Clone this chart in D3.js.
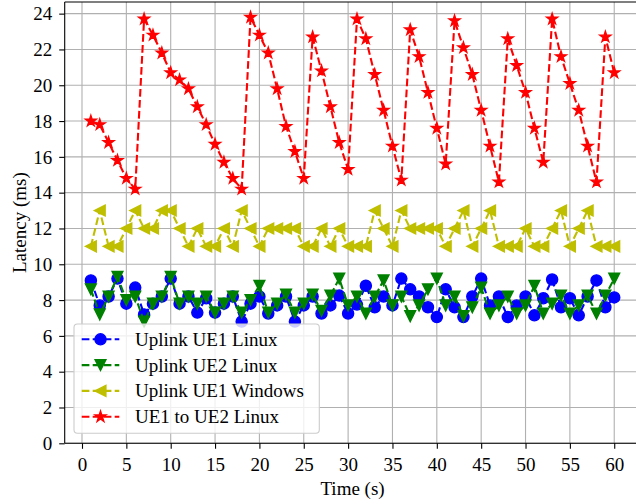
<!DOCTYPE html>
<html>
<head>
<meta charset="utf-8">
<script src="https://cdn.jsdelivr.net/npm/d3@7"></script>
<style>
  html, body { margin: 0; padding: 0; background: #ffffff; }
  svg { display: block; }
  text { font-family: "Liberation Serif", "Times New Roman", serif; fill: #000; }
</style>
</head>
<body>
<script>
// ---------------- data ----------------
const timeS = [1,2,3,4,5,6,7,8,9,10,11,12,13,14,15,16,17,18,19,20,
               21,22,23,24,25,26,27,28,29,30,31,32,33,34,35,36,37,38,39,40,
               41,42,43,44,45,46,47,48,49,50,51,52,53,54,55,56,57,58,59,60];

const uplinkUE1Linux = [9.1,7.7,8.2,9.2,7.8,8.7,7.2,7.8,8.2,9.2,7.8,8.2,7.3,8.1,7.3,7.8,8.2,6.8,7.8,8.2,
                        7.25,7.7,8.2,6.8,7.7,8.2,7.25,7.7,8.25,7.25,7.75,8.8,7.6,8.2,7.7,9.2,8.6,8.2,7.6,7.05,
                        8.6,7.6,7.05,8.2,9.2,7.7,8.2,7.05,7.7,8.2,7.15,8.1,9.15,7.6,8.1,7.15,8.2,9.1,7.6,8.15];

const uplinkUE2Linux = [8.6,7.2,8.2,9.3,8.0,8.2,6.8,7.8,8.2,9.3,7.8,8.2,7.8,8.2,7.3,7.8,8.2,7.3,8.0,8.8,
                        7.3,7.8,8.3,7.3,7.8,8.3,7.4,8.25,9.2,7.7,8.2,7.25,8.2,9.1,7.7,8.2,7.1,7.7,8.6,9.2,
                        7.7,8.2,7.1,7.6,8.7,7.25,7.7,8.2,7.25,7.7,8.8,7.25,7.8,8.25,7.25,7.7,8.25,7.25,8.25,9.2];

const uplinkUE1Windows = [11,13,11,11,12,13,12,12,13,13,12,11,12,11,11,12,11,13,12,11,
                          12,12,12,12,11,11,12,11,12,11,11,11,13,12,11,13,12,12,12,12,
                          11,12,13,11,12,13,11,11,11,12,11,11,12,13,11,12,13,11,11,11];

const ue1ToUe2Linux = [18.0,17.8,16.8,15.8,14.8,14.2,23.7,22.8,21.8,20.7,20.3,19.8,18.8,17.8,16.7,15.7,14.8,14.2,23.8,22.8,
                       21.8,19.8,17.7,16.3,14.8,22.7,20.8,18.8,16.8,15.3,23.7,22.6,20.6,18.6,16.6,14.7,23.1,21.6,19.6,17.6,
                       15.6,23.6,22.1,20.6,18.6,16.6,14.6,22.6,21.1,19.6,17.6,15.7,23.7,21.6,20.1,18.6,16.6,14.6,22.7,20.7];

const seriesNames = ["Uplink UE1 Linux", "Uplink UE2 Linux", "Uplink UE1 Windows", "UE1 to UE2 Linux"];
const xTicks = [0,5,10,15,20,25,30,35,40,45,50,55,60];
const yTicks = [0,2,4,6,8,10,12,14,16,18,20,22,24];
const xLabel = "Time (s)";
const yLabel = "Latency (ms)";

// ---------------- styles ----------------
const colors = ["#0000ff", "#008000", "#bfbf00", "#ff0000"];
const W = 636, H = 504;
const axL = 64.7, axR = 640.4, axT = 2, axB = 443.3;

const svg = d3.select("body").append("svg").attr("width", W).attr("height", H);

const x = d3.scaleLinear().domain([-1.95, 62.95]).range([axL, axR]);
const y = d3.scaleLinear().domain([0, 24.65]).range([axB, axT]);

// custom marker symbols (size = markersize^2)
const symCircle = { draw(ctx, size) { const r = Math.sqrt(size) / 2; ctx.moveTo(r, 0); ctx.arc(0, 0, r, 0, 2 * Math.PI); } };
const symTriDown = { draw(ctx, size) { const r = Math.sqrt(size) / 2; ctx.moveTo(0, r); ctx.lineTo(-r, -r); ctx.lineTo(r, -r); ctx.closePath(); } };
const symTriLeft = { draw(ctx, size) { const r = Math.sqrt(size) / 2; ctx.moveTo(-r, 0); ctx.lineTo(r, -r); ctx.lineTo(r, r); ctx.closePath(); } };
const symStar = { draw(ctx, size) {
  const R = Math.sqrt(size) / 2, ri = R * 0.381966;
  for (let i = 0; i < 10; i++) {
    const a = -Math.PI / 2 + i * Math.PI / 5;
    const rr = i % 2 === 0 ? R : ri;
    const px = rr * Math.cos(a), py = rr * Math.sin(a);
    if (i === 0) ctx.moveTo(px, py); else ctx.lineTo(px, py);
  }
  ctx.closePath();
} };
const markerTypes = [symCircle, symTriDown, symTriLeft, symStar];
const ms = 11.1;
const markerSizes = [ms * ms, ms * ms * 0.95, ms * ms * 0.95, ms * ms * 1.05];

// ---------------- grid ----------------
const grid = svg.append("g");
grid.selectAll("line.vx").data(xTicks).join("line")
  .attr("x1", d => x(d)).attr("x2", d => x(d))
  .attr("y1", axT).attr("y2", axB)
  .attr("stroke", "#b0b0b0").attr("stroke-width", 1.1);
grid.selectAll("line.hy").data(yTicks).join("line")
  .attr("x1", axL).attr("x2", axR)
  .attr("y1", d => y(d)).attr("y2", d => y(d))
  .attr("stroke", "#b0b0b0").attr("stroke-width", 1.1);

// ---------------- series ----------------
const allSeries = [uplinkUE1Linux, uplinkUE2Linux, uplinkUE1Windows, ue1ToUe2Linux];
const line = d3.line().x(d => x(d[0])).y(d => y(d[1]));

allSeries.forEach((vals, i) => {
  const pts = timeS.map((t, j) => [t, vals[j]]);
  const g = svg.append("g");
  g.append("path").datum(pts)
    .attr("d", line)
    .attr("fill", "none")
    .attr("stroke", colors[i])
    .attr("stroke-width", 2.1)
    .attr("stroke-dasharray", "7.7,3.3");
  g.selectAll("path.m").data(pts).join("path")
    .attr("class", "m")
    .attr("transform", d => `translate(${x(d[0])},${y(d[1])})`)
    .attr("d", d3.symbol().type(markerTypes[i]).size(markerSizes[i]))
    .attr("fill", colors[i])
    .attr("stroke", colors[i])
    .attr("stroke-width", 1.4)
    .attr("stroke-linejoin", "miter");
});

// ---------------- axes ----------------
const xAxis = svg.append("g").attr("transform", `translate(0,${axB})`)
  .call(d3.axisBottom(x).tickValues(xTicks).tickSize(5.5).tickSizeOuter(0).tickFormat(d3.format("d")));
xAxis.select(".domain").remove();
xAxis.selectAll(".tick line").attr("stroke", "#000").attr("stroke-width", 1.1);
xAxis.selectAll(".tick text").attr("y", 27.4).attr("dy", null)
  .style("font-family", '"Liberation Serif", serif').style("font-size", "19px");

const yAxis = svg.append("g").attr("transform", `translate(${axL},0)`)
  .call(d3.axisLeft(y).tickValues(yTicks).tickSize(5.5).tickSizeOuter(0).tickFormat(d3.format("d")));
yAxis.select(".domain").remove();
yAxis.selectAll(".tick line").attr("stroke", "#000").attr("stroke-width", 1.1);
yAxis.selectAll(".tick text").attr("x", -12.5).attr("dy", "0.33em")
  .style("font-family", '"Liberation Serif", serif').style("font-size", "19px");

// spines
svg.append("line").attr("x1", axL).attr("x2", axL).attr("y1", axT).attr("y2", axB)
  .attr("stroke", "#000").attr("stroke-width", 1.1);
svg.append("line").attr("x1", axL).attr("x2", axR).attr("y1", axB).attr("y2", axB)
  .attr("stroke", "#000").attr("stroke-width", 1.1);
svg.append("line").attr("x1", axL).attr("x2", axR).attr("y1", axT).attr("y2", axT)
  .attr("stroke", "#000").attr("stroke-width", 1.1);
svg.append("line").attr("x1", axR).attr("x2", axR).attr("y1", axT).attr("y2", axB)
  .attr("stroke", "#000").attr("stroke-width", 1.1);

// axis labels
svg.append("text")
  .attr("x", x(30.5)).attr("y", 495)
  .attr("text-anchor", "middle")
  .style("font-size", "19px")
  .text(xLabel);
svg.append("text")
  .attr("transform", `translate(25.5,${(axT + axB) / 2}) rotate(-90)`)
  .attr("text-anchor", "middle")
  .style("font-size", "19px")
  .text(yLabel);

// ---------------- legend ----------------
const leg = svg.append("g");
leg.append("rect")
  .attr("x", 74).attr("y", 324).attr("width", 245.3).attr("height", 109.3)
  .attr("rx", 3.5).attr("ry", 3.5)
  .attr("fill", "#ffffff").attr("fill-opacity", 0.8)
  .attr("stroke", "#cccccc").attr("stroke-width", 1.1);

const rowY = [339.3, 365.1, 390.9, 416.7];
seriesNames.forEach((name, i) => {
  const cy = rowY[i];
  leg.append("line")
    .attr("x1", 81.7).attr("x2", 119.3).attr("y1", cy).attr("y2", cy)
    .attr("stroke", colors[i]).attr("stroke-width", 2.1)
    .attr("stroke-dasharray", "7.7,3.3");
  leg.append("path")
    .attr("transform", `translate(100.5,${cy})`)
    .attr("d", d3.symbol().type(markerTypes[i]).size(markerSizes[i]))
    .attr("fill", colors[i]).attr("stroke", colors[i]).attr("stroke-width", 1.4);
  leg.append("text")
    .attr("x", 135).attr("y", cy + 6.4)
    .style("font-size", "19px")
    .text(name);
});
</script>
</body>
</html>
